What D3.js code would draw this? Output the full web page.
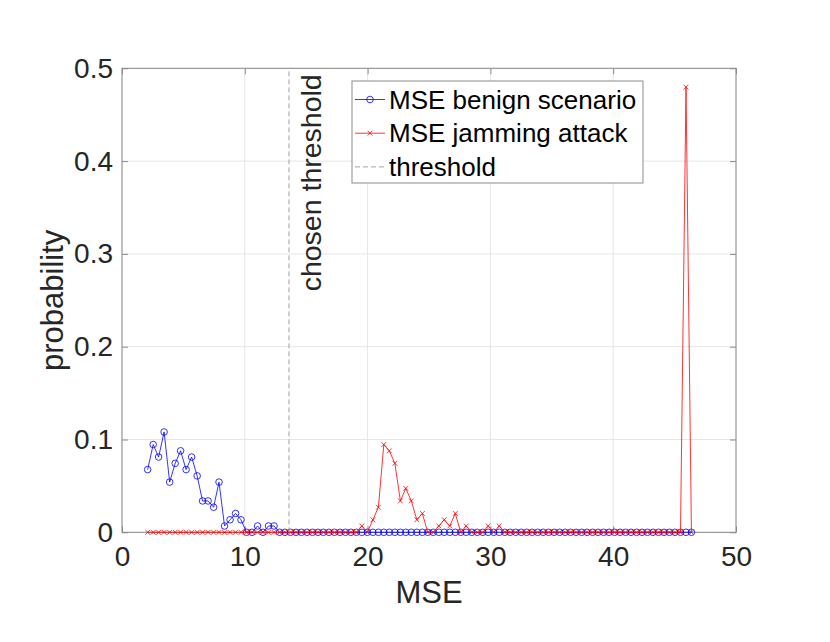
<!DOCTYPE html>
<html>
<head>
<meta charset="utf-8">
<script src="https://cdn.jsdelivr.net/npm/d3@7"></script>
<style>
  body { margin: 0; background: #fff; }
  text { font-family: "Liberation Sans", Arial, Helvetica, sans-serif; fill: #262626; }
  .grid line { stroke: #e6e6e6; stroke-width: 1; }
  .axis-label { font-size: 31px; }
  .legend-label { font-size: 26px; fill: #000; }
</style>
</head>
<body>
<div id="chart"></div>
<script>
// MSE histogram: benign vs jamming, with threshold marker

// bin centres (MSE)
const mseBins = [
  2.09, 2.54, 2.98, 3.43, 3.88, 4.33, 4.77, 5.22, 5.67, 6.12,
  6.56, 7.01, 7.46, 7.90, 8.35, 8.80, 9.25, 9.69, 10.14, 10.59,
  11.04, 11.48, 11.93, 12.38, 12.83, 13.27, 13.72, 14.17, 14.61, 15.06,
  15.51, 15.96, 16.40, 16.85, 17.30, 17.75, 18.19, 18.64, 19.09, 19.53,
  19.98, 20.43, 20.88, 21.32, 21.77, 22.22, 22.67, 23.11, 23.56, 24.01,
  24.46, 24.90, 25.35, 25.80, 26.24, 26.69, 27.14, 27.59, 28.03, 28.48,
  28.93, 29.38, 29.82, 30.27, 30.72, 31.17, 31.61, 32.06, 32.51, 32.95,
  33.40, 33.85, 34.30, 34.74, 35.19, 35.64, 36.09, 36.53, 36.98, 37.43,
  37.87, 38.32, 38.77, 39.22, 39.66, 40.11, 40.56, 41.01, 41.45, 41.90,
  42.35, 42.79, 43.24, 43.69, 44.14, 44.58, 45.03, 45.48, 45.93, 46.37
];

const benignProb = [
  0.0676, 0.0946, 0.0811, 0.1081, 0.0541, 0.0743, 0.0878, 0.0676, 0.0811, 0.0608,
  0.0338, 0.0338, 0.0270, 0.0541, 0.0068, 0.0135, 0.0203, 0.0135, 0, 0,
  0.0068, 0, 0.0068, 0.0068, 0, 0, 0, 0, 0, 0,
  0, 0, 0, 0, 0, 0, 0, 0, 0, 0,
  0, 0, 0, 0, 0, 0, 0, 0, 0, 0,
  0, 0, 0, 0, 0, 0, 0, 0, 0, 0,
  0, 0, 0, 0, 0, 0, 0, 0, 0, 0,
  0, 0, 0, 0, 0, 0, 0, 0, 0, 0,
  0, 0, 0, 0, 0, 0, 0, 0, 0, 0,
  0, 0, 0, 0, 0, 0, 0, 0, 0, 0
];

const jammingProb = [
  0, 0, 0, 0, 0, 0, 0, 0, 0, 0,
  0, 0, 0, 0, 0, 0, 0, 0, 0, 0,
  0, 0, 0, 0, 0, 0, 0, 0, 0, 0,
  0, 0, 0, 0, 0, 0, 0, 0, 0, 0.0068,
  0, 0.0135, 0.0270, 0.0946, 0.0878, 0.0743, 0.0338, 0.0473, 0.0338, 0.0135,
  0.0203, 0, 0, 0.0068, 0.0135, 0.0068, 0.0203, 0, 0.0068, 0,
  0, 0, 0.0068, 0, 0.0068, 0, 0, 0, 0, 0,
  0, 0, 0, 0, 0, 0, 0, 0, 0, 0,
  0, 0, 0, 0, 0, 0, 0, 0, 0, 0,
  0, 0, 0, 0, 0, 0, 0, 0, 0.4797, 0
];

const thresholdMSE = 13.6;
const xTicks = [0, 10, 20, 30, 40, 50];
const yTicks = [0, 0.1, 0.2, 0.3, 0.4, 0.5];
const legendItems = ["MSE benign scenario", "MSE jamming attack", "threshold"];

const width = 830, height = 642;
const margin = { top: 68.3, right: 94, bottom: 109.7, left: 122 };
const plot_width = width - margin.left - margin.right;
const plot_height = height - margin.top - margin.bottom;

const canvas = d3.select("#chart").append("svg")
  .attr("width", width).attr("height", height);

const plot = canvas.append("g")
  .attr("transform", `translate(${margin.left},${margin.top})`);

const xScale = d3.scaleLinear().domain([0, 50]).range([0, plot_width]);
const yScale = d3.scaleLinear().domain([0, 0.5]).range([plot_height, 0]);

// GRID
const grid = plot.append("g").attr("class", "grid");
xTicks.forEach(t => {
  grid.append("line")
    .attr("x1", xScale(t)).attr("x2", xScale(t))
    .attr("y1", 0).attr("y2", plot_height);
});
yTicks.forEach(t => {
  grid.append("line")
    .attr("x1", 0).attr("x2", plot_width)
    .attr("y1", yScale(t)).attr("y2", yScale(t));
});

// AXES (MATLAB style: ticks inside, box)
const axisColor = "#8c8c8c";
const xAxis = plot.append("g")
  .attr("transform", `translate(0,${plot_height})`)
  .call(d3.axisBottom(xScale).tickValues(xTicks).tickSizeInner(-6).tickSizeOuter(0).tickPadding(14));
const yAxis = plot.append("g")
  .call(d3.axisLeft(yScale).tickValues(yTicks).tickSizeInner(-6).tickSizeOuter(0).tickPadding(9)
    .tickFormat(d => d === 0 ? "0" : d3.format(".1f")(d)));
// top / right ticks
plot.append("g")
  .call(d3.axisTop(xScale).tickValues(xTicks).tickSizeInner(-6).tickSizeOuter(0).tickFormat(""));
plot.append("g")
  .attr("transform", `translate(${plot_width},0)`)
  .call(d3.axisRight(yScale).tickValues(yTicks).tickSizeInner(-6).tickSizeOuter(0).tickFormat(""));

plot.selectAll(".domain").remove();
plot.selectAll(".tick line").attr("stroke", axisColor);
[xAxis, yAxis].forEach(a => a.selectAll("text")
  .style("font-family", "Liberation Sans, Arial, sans-serif")
  .style("font-size", "28px")
  .attr("fill", "#262626"));
xAxis.selectAll("text").attr("dy", "0.71em");

plot.append("rect")
  .attr("width", plot_width).attr("height", plot_height)
  .attr("fill", "none").attr("stroke", axisColor).attr("stroke-width", 1);

// SERIES
const lineGen = d3.line()
  .x((d, i) => xScale(mseBins[i]))
  .y(d => yScale(d));

// benign
plot.append("path")
  .datum(benignProb)
  .attr("d", lineGen)
  .attr("fill", "none")
  .attr("stroke", "#0000ff")
  .attr("stroke-width", 0.8);
plot.append("g").selectAll("circle")
  .data(benignProb)
  .join("circle")
  .attr("cx", (d, i) => xScale(mseBins[i]))
  .attr("cy", d => yScale(d))
  .attr("r", 3.3)
  .attr("fill", "none")
  .attr("stroke", "#0000ff")
  .attr("stroke-width", 0.8);

// jamming
plot.append("path")
  .datum(jammingProb)
  .attr("d", lineGen)
  .attr("fill", "none")
  .attr("stroke", "#ff0000")
  .attr("stroke-width", 0.8);
const xm = 2.4;
plot.append("g").selectAll("path")
  .data(jammingProb)
  .join("path")
  .attr("d", (d, i) => {
    const cx = xScale(mseBins[i]), cy = yScale(d);
    return `M${cx - xm},${cy - xm}L${cx + xm},${cy + xm}M${cx - xm},${cy + xm}L${cx + xm},${cy - xm}`;
  })
  .attr("fill", "none")
  .attr("stroke", "#ff0000")
  .attr("stroke-width", 0.8);

// threshold
plot.append("line")
  .attr("x1", xScale(thresholdMSE)).attr("x2", xScale(thresholdMSE))
  .attr("y1", yScale(0)).attr("y2", yScale(0.5))
  .attr("stroke", "#a0a0a0")
  .attr("stroke-width", 1)
  .attr("stroke-dasharray", "5,3");

plot.append("text")
  .attr("transform", `translate(${xScale(thresholdMSE) + 32},${yScale(0.5) + 6}) rotate(-90)`)
  .attr("text-anchor", "end")
  .style("font-size", "28.5px")
  .text("chosen threshold");

// AXIS LABELS
canvas.append("text")
  .attr("class", "axis-label")
  .attr("x", margin.left + plot_width / 2)
  .attr("y", 603)
  .attr("text-anchor", "middle")
  .text("MSE");

canvas.append("text")
  .attr("class", "axis-label")
  .attr("transform", `translate(63,${margin.top + plot_height / 2}) rotate(-90)`)
  .attr("text-anchor", "middle")
  .text("probability");

// LEGEND
const legendG = canvas.append("g").attr("transform", "translate(352,81)");
legendG.append("rect")
  .attr("width", 291).attr("height", 102)
  .attr("fill", "#fff")
  .attr("stroke", "#8c8c8c")
  .attr("stroke-width", 1);

legendItems.forEach((label, i) => {
  const cy = 18.5 + i * 33.7;
  const row = legendG.append("g").attr("transform", `translate(0,${cy})`);
  if (i === 0) {
    row.append("line").attr("x1", 3).attr("x2", 33).attr("stroke", "#0000ff").attr("stroke-width", 0.8);
    row.append("circle").attr("cx", 18).attr("r", 3.3).attr("fill", "none").attr("stroke", "#0000ff").attr("stroke-width", 0.8);
  } else if (i === 1) {
    row.append("line").attr("x1", 3).attr("x2", 33).attr("stroke", "#ff0000").attr("stroke-width", 0.8);
    row.append("path")
      .attr("d", `M${18 - xm},${-xm}L${18 + xm},${xm}M${18 - xm},${xm}L${18 + xm},${-xm}`)
      .attr("stroke", "#ff0000").attr("stroke-width", 0.8);
  } else {
    row.append("line").attr("x1", 3).attr("x2", 33)
      .attr("stroke", "#a0a0a0").attr("stroke-width", 1).attr("stroke-dasharray", "5,3");
  }
  row.append("text")
    .attr("class", "legend-label")
    .attr("x", 37)
    .attr("y", 9)
    .text(label);
});
</script>
</body>
</html>
